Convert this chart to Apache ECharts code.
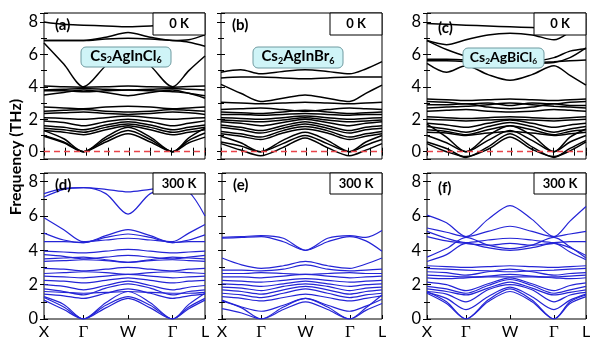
<!DOCTYPE html>
<html>
<head>
<meta charset="utf-8">
<script src="https://cdn.jsdelivr.net/npm/echarts@6/dist/echarts.min.js"></script>
<style>
  html, body { margin: 0; background: #fff; }
  #chart { width: 600px; height: 350px; }
</style>
</head>
<body>
<div id="chart"></div>
<script>
// k-path sample positions: X, mid, Γ, mid, W, mid, Γ, mid, L
const kPos = [0, 19.5, 39, 61, 83, 105, 127, 143, 159];
const kTicks = [0, 39, 83, 127, 159];
const kLabels = ['X', 'Γ', 'W', 'Γ', 'L'];

// (a) Cs2AgInCl6, 0 K
const bandsA = [
  [8.0, 7.85, 7.8, 7.75, 7.7, 7.75, 7.85, 7.6, 7.25],
  [6.85, 6.85, 6.85, 7.05, 7.35, 7.05, 6.85, 6.9, 7.2],
  [6.85, 6.85, 6.85, 6.95, 7.0, 6.95, 6.85, 6.75, 6.5],
  [6.7, 5.4, 4.0, 5.3, 6.3, 5.3, 4.0, 5.0, 5.9],
  [4.05, 4.0, 3.98, 4.0, 4.05, 4.0, 3.98, 4.02, 4.05],
  [3.8, 3.85, 3.9, 3.85, 3.8, 3.85, 3.9, 3.85, 3.8],
  [3.5, 3.65, 3.8, 3.65, 3.45, 3.65, 3.8, 3.6, 3.45],
  [3.75, 3.75, 3.7, 3.75, 3.8, 3.75, 3.7, 3.6, 3.3],
  [2.75, 2.7, 2.65, 2.75, 2.8, 2.75, 2.65, 2.7, 2.75],
  [2.5, 2.55, 2.6, 2.5, 2.45, 2.5, 2.6, 2.55, 2.5],
  [2.35, 2.4, 2.45, 2.35, 2.3, 2.35, 2.45, 2.4, 2.3],
  [2.1, 2.05, 2.0, 2.1, 2.2, 2.1, 2.0, 2.05, 2.1],
  [1.9, 1.8, 1.6, 1.85, 2.0, 1.85, 1.6, 1.75, 1.9],
  [1.6, 1.5, 1.35, 1.65, 1.85, 1.65, 1.35, 1.5, 1.65],
  [1.45, 1.35, 1.2, 1.5, 1.7, 1.5, 1.2, 1.35, 1.5],
  [1.3, 1.2, 1.05, 1.35, 1.6, 1.35, 1.05, 1.2, 1.35],
  [1.3, 0.8, 0, 0.9, 1.5, 0.9, 0, 0.85, 1.45],
  [1.0, 0.6, 0, 0.75, 1.3, 0.75, 0, 0.7, 1.15],
  [0.95, 0.55, 0, 0.6, 1.1, 0.6, 0, 0.55, 0.9]
];

// (b) Cs2AgInBr6, 0 K
const bandsB = [
  [4.9, 5.05, 4.8, 4.95, 5.05, 4.95, 4.8, 5.1, 5.55],
  [4.55, 4.6, 4.6, 4.55, 4.5, 4.55, 4.6, 4.6, 4.6],
  [4.15, 3.6, 3.1, 3.3, 3.5, 3.3, 3.1, 3.6, 4.1],
  [3.05, 3.0, 2.95, 3.0, 3.05, 3.0, 2.95, 3.0, 3.05],
  [2.6, 2.65, 2.7, 2.6, 2.5, 2.6, 2.7, 2.65, 2.6],
  [2.45, 2.4, 2.35, 2.45, 2.55, 2.45, 2.35, 2.4, 2.45],
  [2.3, 2.3, 2.25, 2.3, 2.35, 2.3, 2.25, 2.3, 2.3],
  [2.1, 2.05, 2.0, 2.1, 2.2, 2.1, 2.0, 2.05, 2.1],
  [1.95, 1.9, 1.85, 1.95, 2.1, 1.95, 1.85, 1.9, 1.95],
  [1.85, 1.75, 1.6, 1.8, 2.0, 1.8, 1.6, 1.75, 1.85],
  [1.65, 1.5, 1.3, 1.6, 1.85, 1.6, 1.3, 1.5, 1.6],
  [1.5, 1.35, 1.15, 1.45, 1.7, 1.45, 1.15, 1.35, 1.45],
  [1.25, 1.1, 0.9, 1.3, 1.55, 1.3, 0.9, 1.1, 1.25],
  [1.1, 0.95, 0.75, 1.15, 1.4, 1.15, 0.75, 0.95, 1.1],
  [0.95, 0.55, 0, 0.7, 1.2, 0.7, 0, 0.6, 1.0],
  [0.6, 0.35, 0, 0.5, 1.0, 0.5, 0, 0.4, 0.75],
  [0.5, 0.1, -0.25, 0.25, 0.85, 0.25, -0.25, 0.1, 0.5]
];

// (c) Cs2AgBiCl6, 0 K
const bandsC = [
  [7.9, 7.85, 7.8, 7.75, 7.7, 7.65, 7.6, 7.6, 7.6],
  [6.85, 6.6, 6.9, 7.2, 7.3, 7.2, 6.9, 7.4, 8.2],
  [6.85, 6.3, 5.9, 5.7, 5.6, 5.6, 5.8, 6.2, 6.35],
  [5.7, 5.7, 5.65, 5.5, 5.4, 5.45, 5.5, 5.8, 6.4],
  [5.6, 5.6, 5.55, 5.5, 5.5, 5.5, 5.55, 5.6, 5.65],
  [5.45, 4.9, 5.3, 4.75, 4.4, 4.75, 5.3, 4.7, 4.1],
  [3.25, 3.2, 3.15, 3.2, 3.25, 3.2, 3.15, 3.2, 3.25],
  [3.1, 3.05, 2.95, 3.0, 2.85, 3.0, 2.95, 3.05, 3.1],
  [2.9, 2.9, 2.95, 2.75, 2.65, 2.75, 2.95, 2.85, 2.85],
  [2.7, 2.75, 2.8, 2.9, 3.0, 2.9, 2.8, 2.75, 2.7],
  [2.5, 2.55, 2.6, 2.5, 2.45, 2.5, 2.6, 2.55, 2.5],
  [2.15, 2.1, 2.05, 2.1, 2.15, 2.1, 2.05, 2.1, 2.15],
  [2.0, 1.95, 1.9, 1.95, 2.0, 1.95, 1.9, 1.95, 2.0],
  [1.75, 1.65, 1.5, 1.75, 1.95, 1.75, 1.5, 1.65, 1.75],
  [1.55, 1.4, 1.2, 1.55, 1.8, 1.55, 1.2, 1.4, 1.55],
  [1.35, 1.25, 1.05, 1.35, 1.6, 1.35, 1.05, 1.25, 1.35],
  [1.2, 1.15, 1.0, 1.15, 1.25, 1.15, 1.0, 1.1, 1.2],
  [1.7, 0.9, 0, 1.0, 1.6, 1.0, 0, 0.9, 1.4],
  [1.0, 0.55, 0, 0.7, 1.3, 0.7, 0, 0.6, 1.0],
  [0.6, 0.2, -0.35, 0.3, 1.1, 0.3, -0.35, 0.2, 0.7],
  [0.5, 0.0, -0.3, 0.15, 0.9, 0.15, -0.3, 0.05, 0.6]
];

// (d) Cs2AgInCl6, 300 K
const bandsD = [
  [7.3, 7.6, 7.65, 7.55, 7.4, 7.55, 7.65, 7.4, 6.0],
  [7.1, 7.55, 7.65, 7.3, 6.1, 7.3, 7.65, 7.6, 7.5],
  [5.9, 5.2, 4.5, 4.6, 4.7, 4.6, 4.5, 5.0, 5.5],
  [5.0, 4.6, 4.45, 4.85, 5.2, 4.85, 4.45, 4.6, 4.9],
  [4.5, 4.5, 4.45, 4.75, 4.95, 4.75, 4.45, 4.5, 4.5],
  [3.95, 3.9, 3.85, 3.95, 4.05, 3.95, 3.85, 3.9, 3.95],
  [3.75, 3.65, 3.5, 3.6, 3.7, 3.6, 3.5, 3.6, 3.7],
  [3.5, 3.55, 3.6, 3.45, 3.3, 3.45, 3.6, 3.55, 3.5],
  [3.35, 3.4, 3.45, 3.4, 3.3, 3.4, 3.45, 3.4, 3.35],
  [2.95, 2.9, 2.8, 2.9, 3.0, 2.9, 2.8, 2.9, 2.95],
  [2.65, 2.7, 2.75, 2.7, 2.6, 2.7, 2.75, 2.7, 2.65],
  [2.5, 2.45, 2.4, 2.5, 2.6, 2.5, 2.4, 2.45, 2.5],
  [2.25, 2.2, 2.1, 2.25, 2.4, 2.25, 2.1, 2.2, 2.25],
  [2.0, 1.9, 1.7, 1.95, 2.2, 1.95, 1.7, 1.85, 1.95],
  [1.75, 1.6, 1.4, 1.8, 2.05, 1.8, 1.4, 1.6, 1.7],
  [1.6, 1.55, 1.5, 1.55, 1.6, 1.55, 1.5, 1.5, 1.55],
  [1.45, 1.35, 1.2, 1.5, 1.75, 1.5, 1.2, 1.35, 1.45],
  [1.3, 0.85, 0, 0.95, 1.6, 0.95, 0, 0.85, 1.5],
  [1.25, 0.7, 0, 0.8, 1.3, 0.8, 0, 0.7, 1.2],
  [1.1, 0.55, 0, 0.65, 1.2, 0.65, 0, 0.6, 1.1]
];

// (e) Cs2AgInBr6, 300 K
const bandsE = [
  [4.75, 4.8, 4.85, 4.7, 4.0, 4.7, 4.85, 4.75, 5.15],
  [4.7, 4.75, 4.8, 4.5, 4.0, 4.5, 4.8, 4.55, 3.95],
  [3.55, 3.15, 2.95, 3.1, 3.35, 3.1, 2.95, 3.2, 3.55],
  [2.85, 2.85, 2.8, 2.9, 3.15, 2.9, 2.8, 2.85, 2.9],
  [2.65, 2.65, 2.7, 2.65, 2.6, 2.65, 2.7, 2.65, 2.65],
  [2.45, 2.45, 2.4, 2.5, 2.6, 2.5, 2.4, 2.45, 2.5],
  [2.25, 2.2, 2.15, 2.25, 2.35, 2.25, 2.15, 2.2, 2.25],
  [2.05, 2.0, 1.9, 2.05, 2.2, 2.05, 1.9, 2.0, 2.05],
  [1.85, 1.8, 1.65, 1.9, 2.05, 1.9, 1.65, 1.8, 1.85],
  [1.7, 1.6, 1.45, 1.7, 1.9, 1.7, 1.45, 1.6, 1.7],
  [1.5, 1.4, 1.25, 1.5, 1.75, 1.5, 1.25, 1.4, 1.5],
  [1.3, 1.2, 1.05, 1.25, 1.45, 1.25, 1.05, 1.2, 1.35],
  [1.1, 0.7, 0.45, 0.8, 1.2, 0.8, 0.45, 0.75, 1.15],
  [1.05, 0.65, 0, 0.7, 1.2, 0.7, 0, 0.65, 1.4],
  [0.6, 0.35, 0, 0.55, 1.0, 0.55, 0, 0.5, 0.9]
];

// (f) Cs2AgBiCl6, 300 K
const bandsF = [
  [6.05, 5.6, 4.8, 5.8, 6.6, 5.8, 4.8, 5.7, 6.55],
  [5.3, 5.05, 4.8, 5.1, 5.4, 5.1, 4.8, 4.95, 5.1],
  [5.1, 4.7, 4.45, 4.6, 4.7, 4.6, 4.45, 4.5, 4.5],
  [4.8, 4.55, 4.4, 4.3, 4.4, 4.3, 4.4, 4.15, 3.7],
  [3.6, 4.1, 4.75, 4.3, 4.1, 4.3, 4.75, 4.2, 3.55],
  [3.35, 3.75, 4.4, 4.15, 4.0, 4.15, 4.4, 3.9, 3.45],
  [3.1, 3.05, 3.0, 3.05, 3.1, 3.05, 3.0, 3.05, 3.1],
  [2.95, 2.9, 2.85, 2.8, 2.75, 2.8, 2.85, 2.9, 2.95],
  [2.75, 2.7, 2.55, 2.75, 2.9, 2.75, 2.55, 2.65, 2.7],
  [2.55, 2.5, 2.45, 2.5, 2.6, 2.5, 2.45, 2.5, 2.55],
  [2.4, 2.35, 2.4, 2.45, 2.45, 2.45, 2.4, 2.35, 2.4],
  [2.15, 2.0, 1.65, 2.05, 2.4, 2.05, 1.65, 1.95, 2.1],
  [1.9, 1.75, 1.5, 1.95, 2.3, 1.95, 1.5, 1.7, 1.9],
  [1.75, 1.6, 1.4, 1.8, 2.15, 1.8, 1.4, 1.55, 1.7],
  [1.6, 1.45, 1.0, 1.7, 2.0, 1.7, 1.0, 1.4, 1.55],
  [1.55, 1.2, 0.55, 1.3, 1.85, 1.3, 0.55, 1.1, 1.45],
  [1.6, 1.0, 0, 1.1, 1.75, 1.1, 0, 1.0, 1.4],
  [1.5, 0.9, 0, 1.0, 1.6, 1.0, 0, 0.9, 1.3]
];

const panelTags = ['(a)', '(b)', '(c)', '(d)', '(e)', '(f)'];
const tempTags = ['0 K', '0 K', '0 K', '300 K', '300 K', '300 K'];
const compounds = [['AgInCl', '6'], ['AgInBr', '6'], ['AgBiCl', '6']];

const FONT = 'Lato, "Liberation Sans", sans-serif';
const BLUE = '#2424d6';

// panel frames: [left, top, width, height]
const frames = [
  [44, 13, 161, 146], [221, 13, 161, 146], [427, 13, 159, 146],
  [44, 173, 161, 146], [222, 173, 160, 146], [427, 173, 159, 146]
];
const allBands = [bandsA, bandsB, bandsC, bandsD, bandsE, bandsF];

const chart = echarts.init(document.getElementById('chart'));

let grid = [], xAxis = [], yAxis = [], series = [], graphic = [];

frames.forEach((f, i) => {
  const top = i < 3;
  const showY = (i % 3 !== 1);
  grid.push({ left: f[0], top: f[1], width: f[2], height: f[3], show: true,
    borderColor: '#000', borderWidth: 1, backgroundColor: 'transparent' });

  // bottom x axis
  xAxis.push({
    type: 'value', gridIndex: i, min: 0, max: 159, interval: 21,
    axisLine: { show: false }, splitLine: { show: false },
    axisTick: top
      ? { show: true, inside: true, length: 4, lineStyle: { color: '#000' } }
      : { show: true, inside: true, length: 4, customValues: kTicks, lineStyle: { color: '#000' } },
    axisLabel: top ? { show: false } : {
      show: true, customValues: kTicks, margin: 5,
      color: '#000', fontSize: 16, fontFamily: FONT,
      formatter: v => {
        const s = kLabels[kTicks.indexOf(v)] || '';
        return s === 'Γ' ? '{g|Γ}' : s;
      },
      rich: { g: { fontFamily: '"Liberation Serif", serif', fontSize: 17, color: '#000' } }
    }
  });
  // top x axis (ticks only)
  xAxis.push({
    type: 'value', gridIndex: i, position: 'top', min: 0, max: 159, interval: 21,
    axisLine: { show: false }, splitLine: { show: false }, axisLabel: { show: false },
    axisTick: { show: top, inside: true, length: 4, lineStyle: { color: '#000' } }
  });

  const yRange = top ? { min: -0.45, max: 8.55 } : { min: 0, max: 8.5, interval: 2 };
  yAxis.push(Object.assign({
    type: 'value', gridIndex: i,
    axisLine: { show: false }, splitLine: { show: false },
    axisTick: { show: true, inside: true, length: 4, lineStyle: { color: '#000' } },
    minorTick: { show: true, splitNumber: 2, length: 3, lineStyle: { color: '#000' } },
    axisLabel: { show: showY, margin: 6, color: '#000', fontSize: 16.5, fontFamily: FONT,
      showMinLabel: !top, showMaxLabel: false,
      formatter: v => (Math.abs(v - Math.round(v)) < 1e-6 ? String(Math.round(v)) : '') }
  }, yRange));
  yAxis.push(Object.assign({
    type: 'value', gridIndex: i, position: 'right',
    axisLine: { show: false }, splitLine: { show: false }, axisLabel: { show: false },
    axisTick: { show: true, inside: true, length: 4, lineStyle: { color: '#000' } },
    minorTick: { show: true, splitNumber: 2, length: 3, lineStyle: { color: '#000' } }
  }, yRange));

  allBands[i].forEach((band, j) => {
    const s = {
      type: 'line', xAxisIndex: 2 * i, yAxisIndex: 2 * i,
      data: kPos.map((k, n) => [k, band[n]]),
      smooth: 0.3, symbol: 'none', silent: true, animation: false, clip: true,
      lineStyle: { color: top ? '#000' : BLUE, width: top ? 1.5 : 1.2 }
    };
    if (top && j === 0) {
      s.markLine = {
        silent: true, symbol: 'none', label: { show: false }, animation: false,
        lineStyle: { color: '#e8434a', type: [6, 4], width: 1.3 },
        data: [{ yAxis: 0 }]
      };
    }
    series.push(s);
  });

  // panel tag
  graphic.push({ type: 'text', left: f[0] + 11, top: f[1] + (i % 3 === 2 ? 8 : 5),
    style: { text: panelTags[i], font: 'bold 15px ' + FONT, fill: '#000' }, z: 10 });
  // temperature box
  graphic.push({ type: 'rect', shape: { x: f[0] + f[2] - 52, y: f[1], width: 52, height: top ? 22 : 21 },
    style: { fill: '#fff', stroke: '#000', lineWidth: 1 }, z: 10 });
  graphic.push({ type: 'text', x: f[0] + f[2] - 26, y: f[1] + (top ? 11 : 10.5),
    style: { text: tempTags[i], font: 'bold 13px ' + FONT, fill: '#000',
      align: 'center', verticalAlign: 'middle' }, z: 11 });
});

// compound labels: [x, y, w, h, fontSize]
const compBoxes = [[81, 47, 90, 20, 15], [253, 47, 90, 21, 15], [463, 48, 81, 20, 14]];
compBoxes.forEach((b, i) => {
  graphic.push({ type: 'rect', shape: { x: b[0], y: b[1], width: b[2], height: b[3], r: 5 },
    style: { fill: '#cff4f7', stroke: '#6f9aa0', lineWidth: 1 }, z: 10 });
  graphic.push({ type: 'text', x: b[0] + b[2] / 2, y: b[1] + b[3] / 2 - 1,
    style: {
      text: '{n|Cs}{s|2}{n|' + compounds[i][0] + '}{s|' + compounds[i][1] + '}',
      align: 'center', verticalAlign: 'middle',
      rich: {
        n: { fontFamily: FONT, fontSize: b[4], fontWeight: 'bold', color: '#111' },
        s: { fontFamily: FONT, fontSize: b[4] * 0.6, fontWeight: 'bold', color: '#111',
          padding: [b[4] * 0.55, 0, 0, 0] }
      }
    }, z: 11 });
});

// y axis title
graphic.push({ type: 'text', x: 16, y: 157, rotation: Math.PI / 2,
  style: { text: 'Frequency (THz)', font: 'bold 16px ' + FONT, fill: '#000',
    align: 'center', verticalAlign: 'middle' } });

chart.setOption({
  animation: false,
  grid: grid, xAxis: xAxis, yAxis: yAxis, series: series, graphic: graphic
});
</script>
</body>
</html>
